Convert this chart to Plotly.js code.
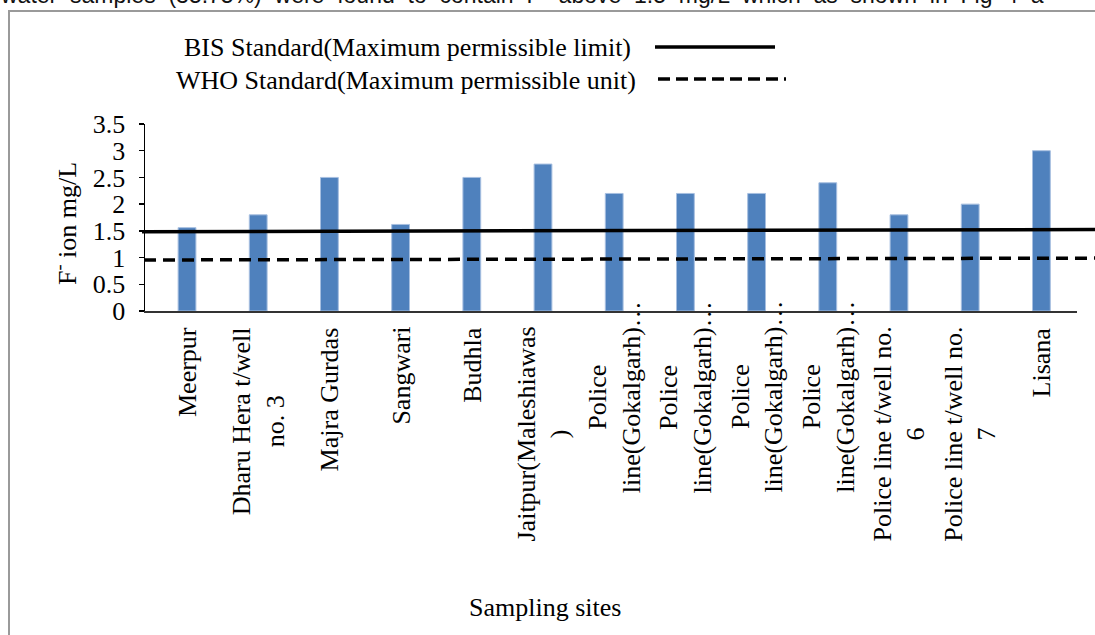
<!DOCTYPE html>
<html>
<head>
<meta charset="utf-8">
<script src="https://cdn.plot.ly/plotly-3.0.1.min.js"></script>
<style>
  html, body { margin: 0; padding: 0; background: #fff; }
  #chart { width: 1095px; height: 635px; }
</style>
</head>
<body>
<div id="chart"></div>
<script>
// Fluoride concentration at each sampling site (mg/L)
const siteLabels = [
  "Meerpur",
  "Dharu Hera t/well<br>no. 3",
  "Majra Gurdas",
  "Sangwari",
  "Budhla",
  "Jaitpur(Maleshiawas<br>)",
  "Police<br>line(Gokalgarh)…",
  "Police<br>line(Gokalgarh)…",
  "Police<br>line(Gokalgarh)…",
  "Police<br>line(Gokalgarh)…",
  "Police line t/well no.<br>6",
  "Police line t/well no.<br>7",
  "Lisana"
];
const fluoride = [1.56, 1.8, 2.5, 1.62, 2.5, 2.75, 2.2, 2.2, 2.2, 2.4, 1.8, 2.0, 3.0];

// Reference limits, value at the left and right end of each drawn line
const bisEnds = [1.485, 1.525];
const whoEnds = [0.955, 0.99];

const yTicks = [0, 0.5, 1, 1.5, 2, 2.5, 3, 3.5];
const yTickText = ["0", "0.5", "1", "1.5", "2", "2.5", "3", "3.5"];

const legendNames = [
  "BIS Standard(Maximum permissible limit)",
  "WHO Standard(Maximum permissible unit)"
];
const xTitle = "Sampling sites";
const yTitle = "F<sup>-</sup> ion mg/L";
const bodyWords = ["water", "samples", "(35.75%)", "were", "found", "to", "contain",
  "F<sup>-</sup>", "above", "1.5", "mg/L", "which", "as", "shown", "in", "Fig", "4", "a"];

const serif = "Liberation Serif, Times New Roman, serif";
const black = "#000000";
const FS = 26;

// plot area geometry in pixels, used to place items outside the axes
const W = 1095, H = 635;
const m = { l: 145, r: 18, t: 124, b: 324 };
const pw = W - m.l - m.r, ph = H - m.t - m.b;
const px = x => (x - m.l) / pw;
const py = y => (H - m.b - y) / ph;

const xs = siteLabels.map((_, i) => i);

const bars = {
  type: "bar",
  x: xs,
  y: fluoride,
  width: 0.25,
  marker: { color: "#4F81BD", line: { color: "#A7BFE0", width: 1 } },
  hoverinfo: "y",
  showlegend: false
};

const annotations = [];

// category labels, rotated, lines centred on one another
siteLabels.forEach((lab, i) => {
  const truncated = lab.endsWith("…");
  annotations.push({
    x: i, xref: "x",
    y: py(truncated ? 299 : 325), yref: "paper",
    xanchor: "center", yanchor: "top",
    text: lab, textangle: -90, align: "center",
    showarrow: false,
    font: { family: serif, size: FS, color: black }
  });
});

annotations.push({
  x: px(545), y: py(607), xref: "paper", yref: "paper",
  xanchor: "center", yanchor: "middle",
  text: xTitle, showarrow: false,
  font: { family: serif, size: FS, color: black }
});
annotations.push({
  x: px(65), y: py(224), xref: "paper", yref: "paper",
  xanchor: "center", yanchor: "middle",
  text: yTitle, textangle: -90, showarrow: false,
  font: { family: serif, size: FS, color: black }
});

// legend texts
annotations.push({
  x: px(633), y: py(48), xref: "paper", yref: "paper",
  xanchor: "right", yanchor: "middle",
  text: legendNames[0], showarrow: false,
  font: { family: serif, size: FS, color: black }
});
annotations.push({
  x: px(638), y: py(80), xref: "paper", yref: "paper",
  xanchor: "right", yanchor: "middle",
  text: legendNames[1], showarrow: false,
  font: { family: serif, size: FS, color: black }
});

// running text of the page above the figure frame (justified line)
annotations.push({
  x: px(-2), y: py(10), xref: "paper", yref: "paper",
  xanchor: "left", yanchor: "bottom",
  text: bodyWords.join(" \u00A0"), showarrow: false,
  font: { family: "Liberation Sans, Arial, sans-serif", size: 23, color: "#111" }
});

const shapes = [
  // figure frame
  { type: "rect", xref: "paper", yref: "paper",
    x0: px(9), x1: px(1200), y0: py(900), y1: py(11),
    line: { color: "#9a9a9a", width: 2 }, layer: "below" },
  // BIS limit
  { type: "line", xref: "paper", yref: "y",
    x0: px(142), x1: px(1100), y0: bisEnds[0], y1: bisEnds[1],
    line: { color: black, width: 3.5 } },
  // WHO limit
  { type: "line", xref: "paper", yref: "y",
    x0: px(144), x1: px(1100), y0: whoEnds[0], y1: whoEnds[1],
    line: { color: black, width: 3.5, dash: "12px,7px" } },
  // legend keys
  { type: "line", xref: "paper", yref: "paper",
    x0: px(655), x1: px(775), y0: py(47), y1: py(47),
    line: { color: black, width: 3.5 } },
  { type: "line", xref: "paper", yref: "paper",
    x0: px(658), x1: px(786), y0: py(79), y1: py(79),
    line: { color: black, width: 3.5, dash: "12px,6px" } }
];

const layout = {
  width: W, height: H,
  margin: m,
  paper_bgcolor: "#ffffff",
  plot_bgcolor: "#ffffff",
  bargap: 0.75,
  showlegend: false,
  xaxis: {
    type: "linear",
    range: [-0.59, 12.5],
    showgrid: false, zeroline: false,
    showticklabels: false, ticks: "",
    showline: true, linecolor: "#333", linewidth: 2
  },
  yaxis: {
    range: [0, 3.5],
    tickvals: yTicks, ticktext: yTickText,
    showgrid: false, zeroline: false,
    showline: true, linecolor: black, linewidth: 1.5,
    ticks: "outside", ticklen: 5, tickcolor: black, tickwidth: 1.5,
    ticklabelstandoff: 8,
    tickfont: { family: serif, size: FS, color: black }
  },
  annotations: annotations,
  shapes: shapes
};

Plotly.newPlot("chart", [bars], layout, { displayModeBar: false, staticPlot: true });
</script>
</body>
</html>
